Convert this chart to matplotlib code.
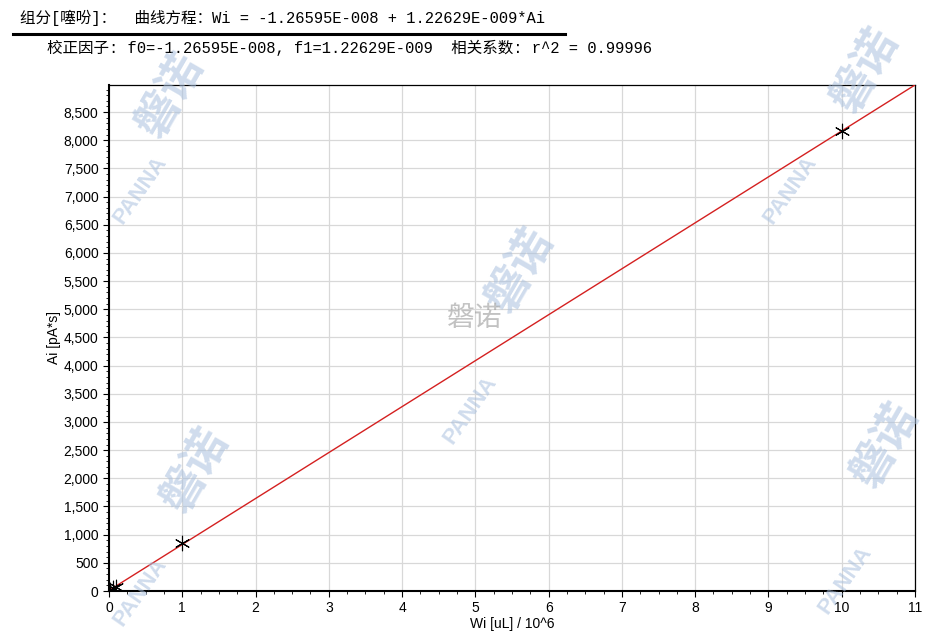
import numpy as np
import matplotlib.pyplot as plt
from matplotlib.ticker import MultipleLocator, FuncFormatter

# calibration points (Wi / 10^6, Ai)
wi_points = [0.02, 0.05, 0.1, 1.0, 10.0]
ai_points = [20, 45, 80, 860, 8160]

f0 = -1.26595e-008
f1 = 1.22629e-009
line_x = [0, 11]

header1 = "组分[噻吩]：  曲线方程：Wi = -1.26595E-008 + 1.22629E-009*Ai"
header2 = "校正因子: f0=-1.26595E-008, f1=1.22629E-009  相关系数: r^2 = 0.99996"

plt.rcParams['font.family'] = ['Liberation Sans', 'Noto Sans CJK SC']

fig = plt.figure(figsize=(9.47, 6.37), dpi=100)
ax = fig.add_axes([0.1151, 0.0722, 0.8511, 0.7944])

# fitted line: Ai = (Wi*1e-6 - f0) / f1
line_y = [(x * 1e-6 - f0) / f1 for x in line_x]
ax.plot(line_x, line_y, color="#d42020", linewidth=1.0, zorder=3)
ax.scatter(wi_points, ai_points, marker=(6, 2, 0), s=110, color="black",
           linewidths=0.8, zorder=4)

ax.set_xlim(0, 11)
ax.set_ylim(0, line_y[1])
ax.xaxis.set_major_locator(MultipleLocator(1))
ax.xaxis.set_minor_locator(MultipleLocator(0.25))
ax.yaxis.set_major_locator(MultipleLocator(500))
ax.yaxis.set_minor_locator(MultipleLocator(100))
ax.yaxis.set_major_formatter(FuncFormatter(lambda v, p: f"{int(v):,}"))
ax.grid(True, which="major", color="#d8d8d8", linewidth=0.9)
ax.set_axisbelow(True)
ax.tick_params(which="major", length=4, width=0.8, labelsize=10)
ax.tick_params(which="minor", length=2, width=0.6)
for s in ["left", "bottom"]:
    ax.spines[s].set_linewidth(1.5)
for s in ["top", "right"]:
    ax.spines[s].set_linewidth(0.9)
ax.set_xlabel("Wi [uL] / 10^6", fontsize=10, labelpad=1)
ax.set_ylabel("Ai [pA*s]", fontsize=10, labelpad=2)

# header text
mono = ['Liberation Mono', 'Noto Sans CJK SC']
fig.text(20 / 947, 1 - 18 / 637, header1, fontsize=11.2, family=mono, va="center")
fig.lines.append(plt.Line2D([13 / 947, 565 / 947], [1 - 34 / 637] * 2,
                            color="black", linewidth=2.2, transform=fig.transFigure))
fig.text(47 / 947, 1 - 48 / 637, header2, fontsize=11.2, family=mono, va="center")

# watermarks
wm = "#a9c0de"
cjk = ['Noto Sans CJK SC']
for (px, py) in [(170, 95), (520, 270), (195, 470), (885, 445), (865, 70)]:
    fig.text(px / 947, 1 - py / 637, "磐诺", fontsize=32, family=cjk, weight="bold",
             color=wm, alpha=0.55, rotation=60, ha="center", va="center", zorder=10)
for (px, py) in [(140, 190), (470, 410), (790, 190), (845, 580), (140, 592)]:
    fig.text(px / 947, 1 - py / 637, "PANNA", fontsize=16, weight="bold",
             color=wm, alpha=0.55, rotation=55, ha="center", va="center", zorder=10)
fig.text(475 / 947, 1 - 318 / 637, "磐诺", fontsize=20, family=['Noto Sans CJK SC'],
         color="#9a9a9a", alpha=0.6, ha="center", va="center", zorder=10)

fig.savefig("out.png", dpi=100)
